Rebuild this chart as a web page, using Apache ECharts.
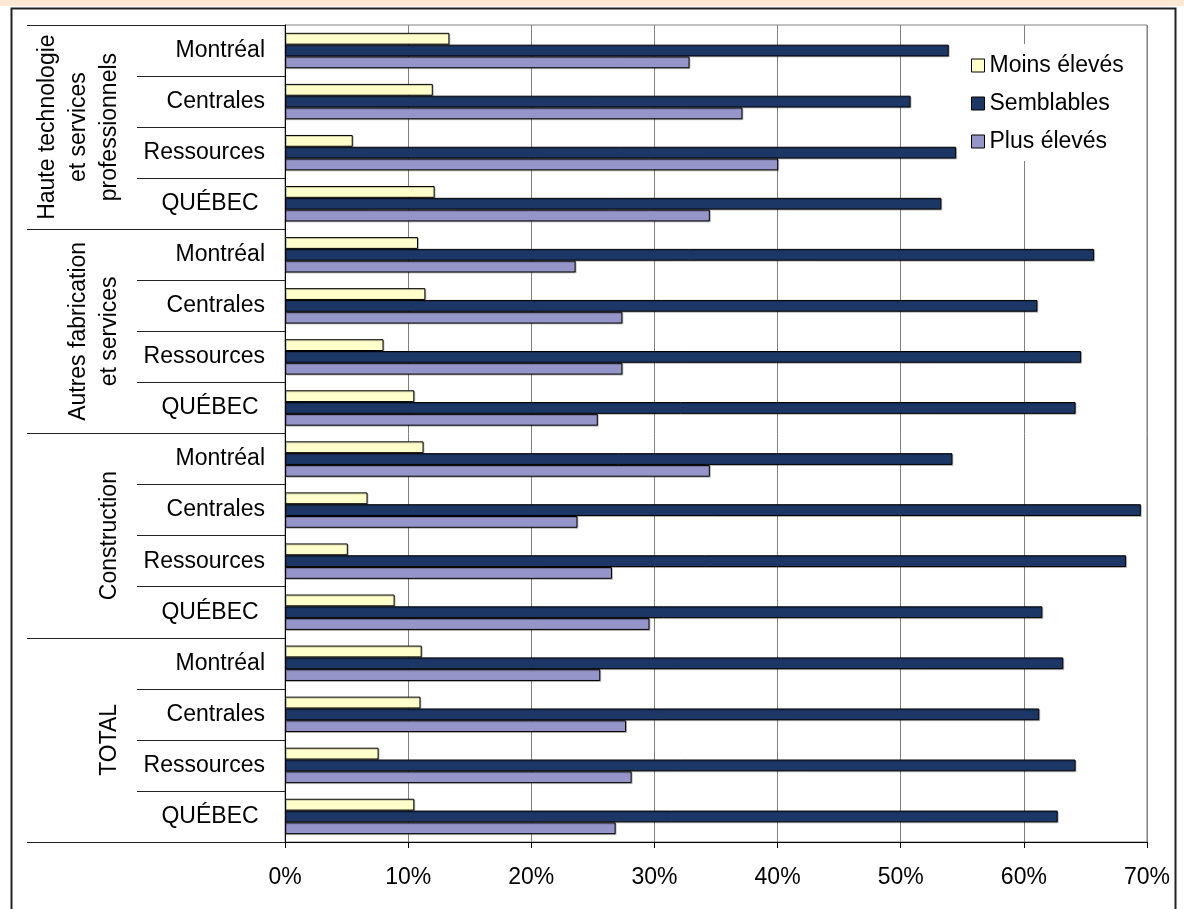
<!DOCTYPE html>
<html>
<head>
<meta charset="utf-8">
<script src="https://cdn.jsdelivr.net/npm/echarts@6/dist/echarts.min.js"></script>
<style>
html,body{margin:0;padding:0;background:#fff;}
#c{width:1184px;height:909px;}
</style>
</head>
<body>
<div id="c"></div>
<script>
// ---- data ----
const categories = ["Montréal","Centrales","Ressources","QUÉBEC ",
                    "Montréal","Centrales","Ressources","QUÉBEC ",
                    "Montréal","Centrales","Ressources","QUÉBEC ",
                    "Montréal","Centrales","Ressources","QUÉBEC "];
const groups = ["Haute technologie\net services\nprofessionnels",
                "Autres fabrication\net services",
                "Construction",
                "TOTAL"];
const seriesNames = ["Moins élevés","Semblables","Plus élevés"];
const moinsEleves = [13.35,12.0,5.5,12.15, 10.8,11.4,8.0,10.5, 11.25,6.7,5.1,8.9, 11.1,11.0,7.6,10.5];
const semblables  = [53.9,50.8,54.5,53.3, 65.7,61.1,64.65,64.2, 54.2,69.5,68.3,61.5, 63.2,61.25,64.2,62.75];
const plusEleves  = [32.85,37.15,40.05,34.5, 23.6,27.4,27.4,25.4, 34.5,23.75,26.55,29.6, 25.6,27.7,28.15,26.85];
const xMin = 0, xMax = 70, xInterval = 10;

// ---- chart ----
const FONT = '"Liberation Sans", Arial, sans-serif';
const colors = ['#FFFFCC','#1C3665','#9595C9'];
const chart = echarts.init(document.getElementById('c'), null, {renderer:'canvas'});
const barStyle = (c) => ({color:c, borderColor:'#000', borderWidth:1,
  shadowColor:'rgba(0,0,0,0.22)', shadowOffsetX:1, shadowOffsetY:1, shadowBlur:0});
const data = [moinsEleves, semblables, plusEleves];
chart.setOption({
  animation:false,
  backgroundColor:'#fff',
  textStyle:{fontFamily:FONT},
  color:colors,
  graphic:[
    {type:'rect', left:0, top:0, shape:{width:1184, height:6}, style:{fill:'#FDE9D3'}, z:-10},
    {type:'rect', left:9, top:6, shape:{width:1164, height:960}, style:{fill:'none', stroke:'#222', lineWidth:2}, z:-5}
  ],
  grid:{left:285, top:25, right:37, bottom:67, show:true, borderColor:'#808080', borderWidth:1, backgroundColor:'transparent', containLabel:false},
  legend:{
    orient:'vertical', left:961, top:44, padding:[10,10,8,10],
    backgroundColor:'#fff',
    itemWidth:13, itemHeight:13, itemGap:15, icon:'rect',
    itemStyle:{borderColor:'#000', borderWidth:1},
    textStyle:{fontSize:23, color:'#000', fontFamily:FONT},
    data:seriesNames
  },
  xAxis:{
    type:'value', min:xMin, max:xMax, interval:xInterval,
    axisLine:{show:true, lineStyle:{color:'#000', width:1}},
    axisTick:{show:true, length:6, lineStyle:{color:'#000'}},
    axisLabel:{formatter:'{value}%', fontSize:23, color:'#000', margin:24, fontFamily:FONT},
    splitLine:{show:true, lineStyle:{color:'#808080', width:1}}
  },
  yAxis:[
    {
      type:'category', data:categories, inverse:true, position:'left',
      axisLine:{show:true, lineStyle:{color:'#000'}},
      axisTick:{show:true, length:148, interval:0, lineStyle:{color:'#222'}},
      axisLabel:{fontSize:23, color:'#000', margin:20, interval:0, fontFamily:FONT},
      splitLine:{show:false}
    },
    {
      type:'category', data:groups, inverse:true, position:'left',
      axisLine:{show:false},
      axisTick:{show:true, length:258, interval:0, lineStyle:{color:'#222'}},
      axisLabel:{fontSize:23, color:'#000', margin:160, rotate:90, interval:0, lineHeight:31, fontFamily:FONT},
      splitLine:{show:false}
    }
  ],
  series: seriesNames.map((n,i)=>({
    name:n, type:'bar', yAxisIndex:0, data:data[i],
    barWidth:11.8, barGap:'0%',
    itemStyle:barStyle(colors[i])
  }))
});
</script>
</body>
</html>
